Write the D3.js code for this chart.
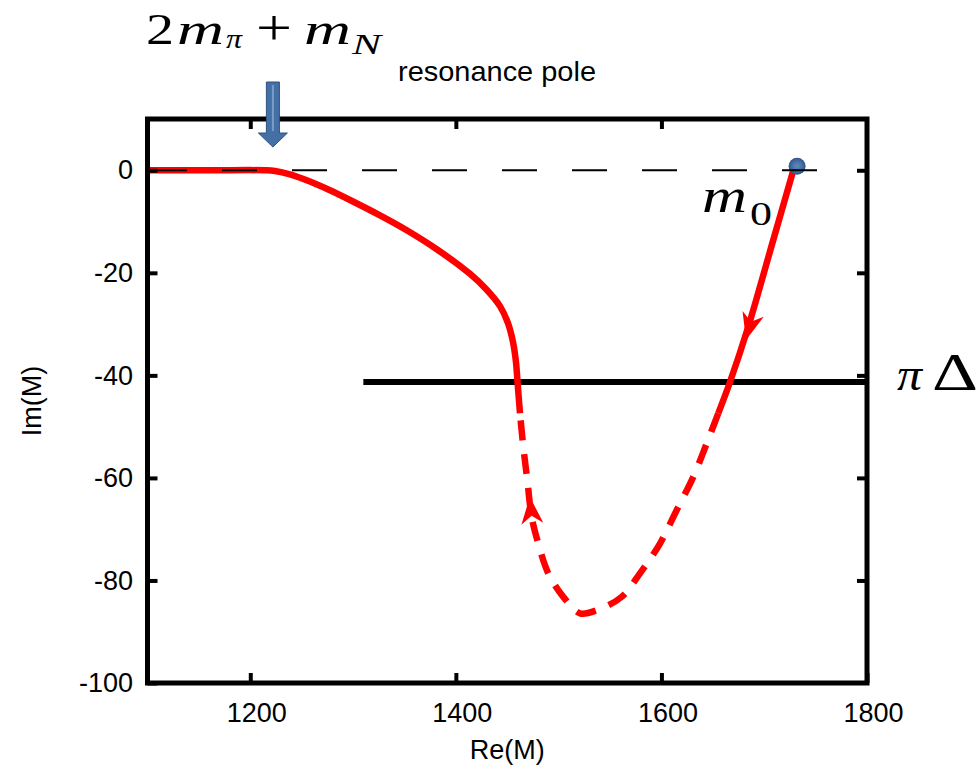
<!DOCTYPE html>
<html>
<head>
<meta charset="utf-8">
<script src="https://cdn.jsdelivr.net/npm/d3@7/dist/d3.min.js"></script>
<style>
  html, body { margin: 0; padding: 0; background: #fff; }
  svg { display: block; }
</style>
</head>
<body>
<svg id="chart" width="977" height="772"></svg>
<script>
// Pole trajectory in the complex mass plane, in travel order:
// from the bare mass m0 down, around the lower sheet, and up to threshold.
const rightSolid = [
  [1728.3, 0], [1708.8, -13.6], [1684.5, -30.5], [1666.7, -41.3], [1655.3, -47.4]
];
const dashedPart = [
  [1655.3, -47.4], [1644.0, -53.3], [1631.0, -59.8], [1614.8, -66.3], [1598.6, -72.8],
  [1579.1, -78.6], [1561.3, -83.2], [1537.0, -85.8], [1520.8, -86.4], [1504.5, -83.2],
  [1489.9, -78.6], [1480.2, -72.8], [1473.8, -67.6], [1469.5, -60.4], [1465.6, -53.9],
  [1462.4, -47.4]
];
const leftSolid = [
  [1462.4, -47.4], [1460.0, -41.3], [1458.5, -37.4], [1455.6, -33.5], [1450.7, -29.8],
  [1442.9, -26.5], [1430.0, -23.3], [1413.7, -20.2], [1381.4, -15.4], [1352.2, -11.7],
  [1326.2, -8.8], [1297.0, -5.8], [1277.5, -3.9], [1258.1, -2.2], [1238.6, -0.8],
  [1224.0, -0.14], [1214.3, 0], [1160, 0], [1100, 0]
];
// Direction arrows: tip point and the point it comes from
const flowArrows = [
  { tip: [1682.3, -33.1], from: [1708.8, -13.6] },
  { tip: [1472.0, -63.7], from: [1473.8, -67.6] }
];
const bareMass = [1732, 0.8];          // m0
const piDeltaLine = [[1310, -41.3], [1800, -41.3]];
const zeroLine = [[1100, 0], [1770, 0]];
const threshold = 1222;                 // 2 m_pi + m_N
const xTicks = [1200, 1400, 1600, 1800];
const yTicks = [0, -20, -40, -60, -80, -100];

const svg = d3.select("#chart");
const sans = "'Liberation Sans', Arial, Helvetica, sans-serif";
const serif = "'Liberation Serif', 'Times New Roman', serif";

const x = d3.scaleLinear().domain([1100, 1800]).range([147.5, 867]);
const y = d3.scaleLinear().domain([-100, 10]).range([683, 119]);

const line = d3.line().x(d => x(d[0])).y(d => y(d[1]));
const smooth = d3.line().x(d => x(d[0])).y(d => y(d[1])).curve(d3.curveCatmullRom.alpha(0.5));

svg.append("rect").attr("width", 977).attr("height", 772).attr("fill", "#fff");

// pi-Delta threshold line
svg.append("path").attr("d", line(piDeltaLine))
  .attr("fill", "none").attr("stroke", "#000").attr("stroke-width", 6);

// red trajectory
const red = "#ff0000";
svg.append("path").attr("d", smooth(rightSolid))
  .attr("fill", "none").attr("stroke", red).attr("stroke-width", 6.5);
svg.append("path").attr("d", smooth(dashedPart))
  .attr("fill", "none").attr("stroke", red).attr("stroke-width", 6.5)
  .attr("stroke-dasharray", "20,14");
svg.append("path").attr("d", smooth(leftSolid))
  .attr("fill", "none").attr("stroke", red).attr("stroke-width", 6.5).attr("stroke-linejoin", "round");

// arrowheads
flowArrows.forEach(a => {
  const tx = x(a.tip[0]), ty = y(a.tip[1]);
  const fx = x(a.from[0]), fy = y(a.from[1]);
  let dx = tx - fx, dy = ty - fy;
  const len = Math.hypot(dx, dy); dx /= len; dy /= len;
  const nx = -dy, ny = dx, L = 27, W = 11;
  const pts = [
    [tx, ty],
    [tx - dx * L + nx * W, ty - dy * L + ny * W],
    [tx - dx * L * 0.7, ty - dy * L * 0.7],
    [tx - dx * L - nx * W, ty - dy * L - ny * W]
  ];
  svg.append("path").attr("d", "M" + pts.map(p => p.join(",")).join("L") + "Z")
    .attr("fill", red);
});

// bare mass point
const defs = svg.append("defs");
const rg = defs.append("radialGradient").attr("id", "poleFill");
rg.append("stop").attr("offset", "0%").attr("stop-color", "#6189bf");
rg.append("stop").attr("offset", "55%").attr("stop-color", "#4a71a6");
rg.append("stop").attr("offset", "100%").attr("stop-color", "#2f5687");
svg.append("circle").attr("cx", x(bareMass[0])).attr("cy", y(bareMass[1])).attr("r", 8.5)
  .attr("fill", "url(#poleFill)");

// real axis (dashed)
svg.append("path").attr("d", line(zeroLine))
  .attr("fill", "none").attr("stroke", "#000").attr("stroke-width", 2)
  .attr("stroke-dasharray", "35,35").attr("stroke-dashoffset", 65.5);

// axes with inward ticks
const plain = d => String(d);
function styleAxis(g) {
  g.select(".domain").remove();
  g.selectAll(".tick line").attr("stroke", "#000").attr("stroke-width", 4);
  g.selectAll(".tick text").attr("font-family", sans).attr("font-size", 27).attr("fill", "#000");
}
svg.append("g").attr("transform", "translate(0,683)")
  .call(d3.axisBottom(x).tickValues(xTicks).tickSizeInner(-10).tickSizeOuter(0).tickPadding(20).tickFormat(plain))
  .call(styleAxis)
  .call(g => g.selectAll(".tick text").attr("dx", 6));
svg.append("g").attr("transform", "translate(0,119)")
  .call(d3.axisTop(x).tickValues(xTicks.slice(0, 3)).tickSizeInner(-10).tickSizeOuter(0).tickFormat(""))
  .call(styleAxis);
svg.append("g").attr("transform", "translate(147.5,0)")
  .call(d3.axisLeft(y).tickValues(yTicks).tickSizeInner(-10).tickSizeOuter(0).tickPadding(14.5).tickFormat(plain))
  .call(styleAxis);
svg.append("g").attr("transform", "translate(867,0)")
  .call(d3.axisRight(y).tickValues(yTicks.slice(0, 5)).tickSizeInner(-10).tickSizeOuter(0).tickFormat(""))
  .call(styleAxis);

// frame
svg.append("rect")
  .attr("x", x.range()[0]).attr("y", y.range()[1])
  .attr("width", x.range()[1] - x.range()[0]).attr("height", y.range()[0] - y.range()[1])
  .attr("fill", "none").attr("stroke", "#000").attr("stroke-width", 5);

// axis titles
svg.append("text").attr("x", (x.range()[0] + x.range()[1]) / 2).attr("y", 759)
  .attr("text-anchor", "middle").attr("font-family", sans).attr("font-size", 27).text("Re(M)");
svg.append("text").attr("transform", "translate(41,401) rotate(-90)")
  .attr("text-anchor", "middle").attr("font-family", sans).attr("font-size", 27).text("Im(M)");

// threshold marker arrow
const ax = x(threshold);
const arrowPath = [
  [ax - 6.5, 82], [ax + 6.5, 82], [ax + 6.5, 133], [ax + 14.5, 133],
  [ax, 147], [ax - 14.5, 133], [ax - 6.5, 133]
];
svg.append("path").attr("d", "M" + arrowPath.map(p => p.join(",")).join("L") + "Z")
  .attr("fill", "#4470a5").attr("stroke", "#2d5282").attr("stroke-width", 1);
svg.append("line").attr("x1", ax).attr("x2", ax).attr("y1", 85).attr("y2", 131)
  .attr("stroke", "#7b9cc9").attr("stroke-width", 2);

// math annotations
function piece(txt, px, base, size, italic, width) {
  svg.append("text").attr("x", px).attr("y", base)
    .attr("font-family", serif).attr("font-size", size)
    .attr("font-style", italic ? "italic" : "normal")
    .attr("textLength", width).attr("lengthAdjust", "spacingAndGlyphs")
    .text(txt);
}
piece("2", 146, 44, 44, false, 28);
piece("m", 177, 44, 44, true, 47);
piece("π", 226, 48, 28, true, 16);
piece("+", 256, 45, 50, false, 36);
piece("m", 304, 44, 44, true, 47);
piece("N", 352, 54, 30, true, 29);

piece("m", 702, 212, 48, true, 45);
piece("0", 750, 225, 34, false, 22);

piece("π", 897, 390, 46, true, 25);
piece("Δ", 932, 390, 52, false, 46);

svg.append("text").attr("x", 398).attr("y", 81)
  .attr("font-family", sans).attr("font-size", 28)
  .attr("textLength", 198).attr("lengthAdjust", "spacingAndGlyphs").text("resonance pole");
</script>
</body>
</html>
